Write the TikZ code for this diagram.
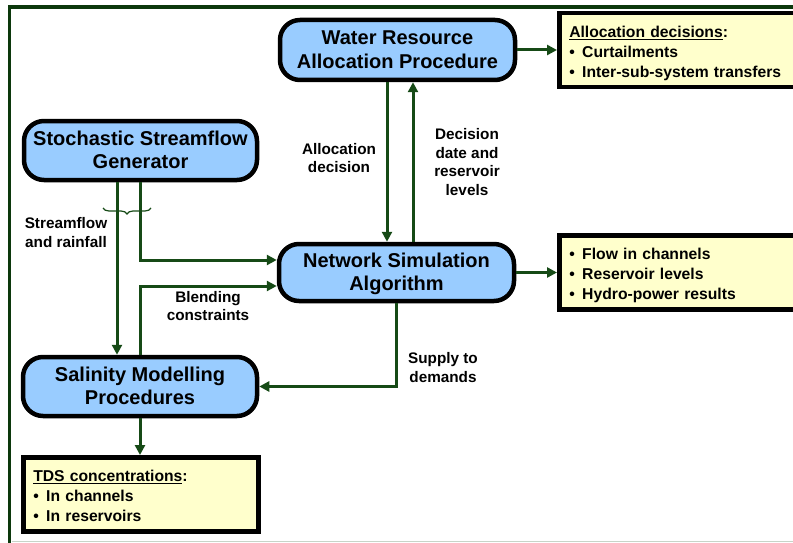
\documentclass[tikz,border=0pt]{standalone}
\usepackage{fontspec}
\setmainfont{Liberation Sans}
\usetikzlibrary{arrows.meta,decorations.pathreplacing}
\definecolor{flowgreen}{RGB}{22,74,22}
\definecolor{framegreen}{RGB}{12,56,12}
\definecolor{procblue}{RGB}{153,204,255}
\definecolor{notecream}{RGB}{255,255,204}
\definecolor{edgegrey}{RGB}{200,212,200}
% bullet item inside the result boxes
\newcommand{\itm}[1]{\makebox[13pt][l]{\textbullet}#1}
% text block lowered by #1 while keeping its nominal size
\newcommand{\lowered}[2]{\raisebox{-#1}[\height][\depth]{#2}}
% centred block for the process boxes, left block for the result boxes
\newcommand{\proctext}[1]{\lowered{2pt}{\begin{tabular}{@{}c@{}}#1\end{tabular}}}
\newcommand{\notetext}[1]{\lowered{3pt}{\begin{tabular}{@{}l@{}}#1\end{tabular}}}
\begin{document}
\begin{tikzpicture}[x=1pt,y=-1pt,
  proc/.style={draw=black, line width=4.5pt, fill=procblue, rounded corners=20pt,
    font=\fontsize{20}{23.5}\selectfont\bfseries, inner sep=0pt},
  note/.style={draw=black, line width=4.5pt, fill=notecream, align=left,
    font=\fontsize{15.7}{20}\selectfont\bfseries, inner xsep=10pt, inner ysep=0pt,
    anchor=north west, minimum height=74pt},
  flow/.style={draw=flowgreen, line width=3pt, -{Triangle[length=10pt,width=10pt]}},
  lbl/.style={align=center, font=\fontsize{15.3}{18.4}\selectfont\bfseries, inner sep=0pt}]

\useasboundingbox (0,0) rectangle (793,543);

% page frame
\draw[framegreen, line width=3.5pt] (9.5,548) -- (9.5,7) -- (800,7);
\draw[edgegrey, line width=1.5pt] (12,541.5) -- (800,541.5);

% processes
\node[proc, minimum width=235pt, minimum height=60pt] (wrap) at (397.5,50)
  {\proctext{Water Resource\\Allocation Procedure}};
\node[proc, minimum width=233pt, minimum height=59pt] (ssg) at (140.5,150.5)
  {\proctext{Stochastic Streamflow\\Generator}};
\node[proc, minimum width=235pt, minimum height=57pt] (nsa) at (396.5,272.5)
  {\proctext{Network Simulation\\Algorithm}};
\node[proc, minimum width=234pt, minimum height=59pt] (smp) at (140,386.5)
  {\proctext{Salinity Modelling\\Procedures}};

% result boxes
\node[note, text width=220pt] (alloc) at (557,11)
  {\notetext{\underline{Allocation decisions}:\\\itm{Curtailments}\\\itm{Inter-sub-system transfers}}};
\node[note, text width=220pt] (res) at (557,233)
  {\notetext{\itm{Flow in channels}\\\itm{Reservoir levels}\\\itm{Hydro-power results}}};
\node[note, text width=215pt] (tds) at (21,455)
  {\notetext{\underline{TDS concentrations}:\\\itm{In channels}\\\itm{In reservoirs}}};

% connectors
\draw[flow] (wrap.east) -- (wrap.east -| alloc.west);
\draw[flow] ([xshift=-10.5pt]wrap.south) -- ([xshift=-10.5pt]wrap.south |- nsa.north);
\draw[flow] ([xshift=16.5pt]nsa.north) -- ([xshift=16.5pt]nsa.north |- wrap.south);
\draw[flow] ([xshift=-23.5pt]ssg.south) -- ([xshift=-23.5pt]ssg.south |- smp.north);
\draw[flow] ([xshift=-0.5pt]ssg.south) |- ([yshift=12.5pt]nsa.west);
\draw[flow] (smp.north) |- ([yshift=-13.5pt]nsa.west);
\draw[flow] (nsa.south) |- (smp.east);
\draw[flow] (nsa.east) -- (nsa.east -| res.west);
\draw[flow] (smp.south) -- (smp.south |- tds.north);

% brace grouping the two streamflow lines
\coordinate (braceL) at (103,208);
\coordinate (braceR) at (151,208);
\draw[flowgreen, line width=1.2pt, decorate, decoration={brace, amplitude=6pt, mirror}] (braceL) -- (braceR);

% connector labels
\node[lbl] (lalloc) at (339,158) {Allocation\\decision};
\node[lbl] (ldec) at (467,162) {Decision\\date and\\reservoir\\levels};
\node[lbl] (lstream) at (66,232.5) {Streamflow\\and rainfall};
\node[lbl] (lblend) at (208,306) {Blending\\constraints};
\node[lbl] (lsupply) at (443,367.5) {Supply to\\demands};
\end{tikzpicture}
\end{document}
